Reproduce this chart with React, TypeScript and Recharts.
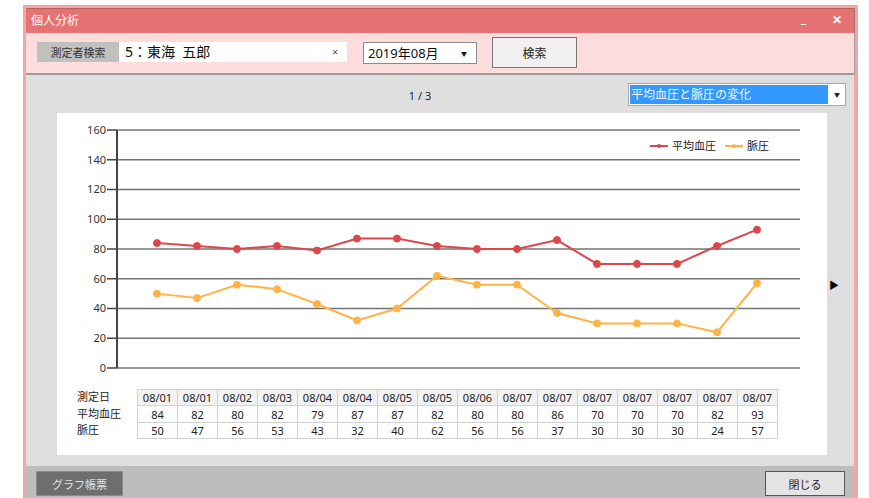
import React from 'react';
import { LineChart, Line, XAxis, YAxis, CartesianGrid } from 'recharts';

const dates = ['08/01', '08/01', '08/02', '08/03', '08/04', '08/04', '08/05', '08/05', '08/06', '08/07', '08/07', '08/07', '08/07', '08/07', '08/07', '08/07'];
const meanBP = [84, 82, 80, 82, 79, 87, 87, 82, 80, 80, 86, 70, 70, 70, 82, 93];
const pulsePressure = [50, 47, 56, 53, 43, 32, 40, 62, 56, 56, 37, 30, 30, 30, 24, 57];
const yTicks = [0, 20, 40, 60, 80, 100, 120, 140, 160];
const seriesNames = ['平均血圧', '脈圧'];
const seriesColors = ['#db474d', '#ffb347'];
const rowLabels = ['測定日', '平均血圧', '脈圧'];

const data = dates.map((d, i) => ({ idx: String(i), date: d, mean: meanBP[i], pulse: pulsePressure[i] }));

const FONT = "'Noto Sans', 'Noto Sans CJK JP', sans-serif";

const abs = (l: number, t: number, w: number, h: number, extra: React.CSSProperties = {}): React.CSSProperties => ({
  position: 'absolute', left: l, top: t, width: w, height: h, boxSizing: 'border-box', ...extra,
});

const center: React.CSSProperties = { display: 'flex', alignItems: 'center', justifyContent: 'center' };

export default function App() {
  const tableRows = [dates, meanBP.map(String), pulsePressure.map(String)];
  const rowTops = [389, 405, 422];
  const rowHeights = [16, 17, 16];
  return (
    <div style={{ position: 'absolute', left: 0, top: 0, width: 869, height: 498, background: '#fff', overflow: 'hidden', fontFamily: FONT }}>
      {/* window */}
      <div style={abs(23, 5, 835, 493, { background: '#f3a6a6' })} />
      {/* title bar */}
      <div style={abs(26, 8, 829, 25, { background: '#e57373', borderTop: '1px solid #b86060', borderRight: '1px solid #a07070' })} />
      <div style={abs(31, 12, 100, 18, { color: '#fff', fontSize: 12, lineHeight: '18px' })}>個人分析</div>
      <div style={abs(801, 8, 14, 20, { color: '#fff', fontSize: 13, fontWeight: 'bold', lineHeight: '20px' })}>_</div>
      <div style={abs(832, 10, 14, 20, { color: '#fff', fontSize: 12, fontWeight: 'bold', lineHeight: '20px' })}>✕</div>
      {/* toolbar */}
      <div style={abs(26, 33, 829, 40, { background: '#fddcdd', borderRight: '1px solid #a0a0a0' })} />
      <div style={abs(37, 42, 82, 20, { background: '#c0c0c0', color: '#333', fontSize: 11, ...center })}>測定者検索</div>
      <div style={abs(119, 42, 228, 20, { background: '#fff' })} />
      <div style={abs(125, 42, 180, 20, { color: '#111', fontSize: 14, lineHeight: '20px' })}>5：東海&nbsp;&nbsp;五郎</div>
      <div style={abs(332, 42, 12, 20, { color: '#555', fontSize: 11, lineHeight: '20px' })}>×</div>
      <div style={abs(363, 42, 114, 22, { background: '#fff', border: '1px solid #8a8a8a' })} />
      <div style={abs(368, 43, 90, 20, { color: '#111', fontSize: 13, lineHeight: '20px' })}>2019年08月</div>
      <div style={abs(459, 43, 10, 20, { color: '#111', fontSize: 6, ...center })}>▼</div>
      <div style={abs(492, 37, 85, 31, { background: '#f0f0f0', border: '1px solid #777', color: '#222', fontSize: 12, ...center })}>検索</div>
      {/* separator + gray area */}
      <div style={abs(26, 73, 829, 2, { background: '#9c9c9c' })} />
      <div style={abs(26, 75, 828, 391, { background: '#dfdfdf' })} />
      <div style={abs(380, 87, 80, 18, { color: '#222', fontSize: 11, lineHeight: '18px', textAlign: 'center' })}>1 / 3</div>
      {/* dropdown */}
      <div style={abs(628, 83, 218, 23, { background: '#fff', border: '1px solid #a8a8a8' })} />
      <div style={abs(630, 85, 198, 19, { background: '#3399ff', color: '#f4f4f4', fontSize: 12, lineHeight: '19px', paddingLeft: 1 })}>平均血圧と脈圧の変化</div>
      <div style={abs(830, 85, 14, 19, { color: '#222', fontSize: 6, ...center })}>▼</div>
      {/* chart panel */}
      <div style={abs(57, 113, 770, 342, { background: '#fff' })} />
      <div style={abs(828, 276, 12, 16, { color: '#000', fontSize: 10, ...center })}>▶</div>
      <div style={{ position: 'absolute', left: 56, top: 113 }}>
        <LineChart width={771} height={280} data={data} margin={{ top: 17, right: 27, left: 0, bottom: 25 }}>
          <CartesianGrid vertical={false} stroke="#747474" strokeWidth={1.5} />
          <XAxis dataKey="idx" hide scale="point" padding={{ left: 40, right: 43 }} />
          <YAxis
            width={61}
            domain={[0, 160]}
            ticks={yTicks}
            tickSize={10}
            tickMargin={1}
            interval={0}
            axisLine={{ stroke: '#444', strokeWidth: 2 }}
            tickLine={{ stroke: '#444', strokeWidth: 1.5 }}
            tick={{ fill: '#333', fontSize: 11, fontFamily: FONT }}
          />
          <Line dataKey="mean" name={seriesNames[0]} stroke={seriesColors[0]} strokeWidth={2} dot={{ r: 3.5, fill: seriesColors[0], stroke: seriesColors[0], strokeWidth: 1 }} isAnimationActive={false} />
          <Line dataKey="pulse" name={seriesNames[1]} stroke={seriesColors[1]} strokeWidth={2} dot={{ r: 3.5, fill: seriesColors[1], stroke: seriesColors[1], strokeWidth: 1 }} isAnimationActive={false} />
        </LineChart>
      </div>
      {/* legend */}
      {[0, 1].map((s) => {
        const lx = s === 0 ? 650 : 725;
        return (
          <React.Fragment key={s}>
            <div style={abs(lx, 145, 18, 2, { background: seriesColors[s] })} />
            <div style={abs(lx + 7, 144, 4, 4, { background: seriesColors[s], borderRadius: 2 })} />
            <div style={abs(lx + 22, 138, 60, 16, { color: '#222', fontSize: 11, lineHeight: '16px' })}>{seriesNames[s]}</div>
          </React.Fragment>
        );
      })}
      {/* table */}
      {rowLabels.map((lab, r) => (
        <div key={'l' + r} style={abs(77, rowTops[r], 60, rowHeights[r], { color: '#222', fontSize: 11, lineHeight: rowHeights[r] + 'px' })}>{lab}</div>
      ))}
      {tableRows.map((row, r) =>
        row.map((v, c) => (
          <div
            key={r + '-' + c}
            style={abs(137 + c * 40, rowTops[r], 41, rowHeights[r] + 1, {
              border: '1px solid #d2d2d2',
              background: r === 0 ? '#f2f2f2' : '#fff',
              color: '#222',
              fontSize: 11,
              ...center,
            })}
          >
            {v}
          </div>
        ))
      )}
      {/* bottom bar */}
      <div style={abs(26, 466, 828, 32, { background: '#bdbdbd' })} />
      <div style={abs(36, 471, 87, 25, { background: '#6e6e6e', border: '1px solid #8a8a8a', color: '#e4e4e4', fontSize: 11, ...center })}>グラフ帳票</div>
      <div style={abs(765, 471, 80, 25, { background: '#e3e3e3', border: '1px solid #555', color: '#222', fontSize: 11, ...center })}>閉じる</div>
    </div>
  );
}
